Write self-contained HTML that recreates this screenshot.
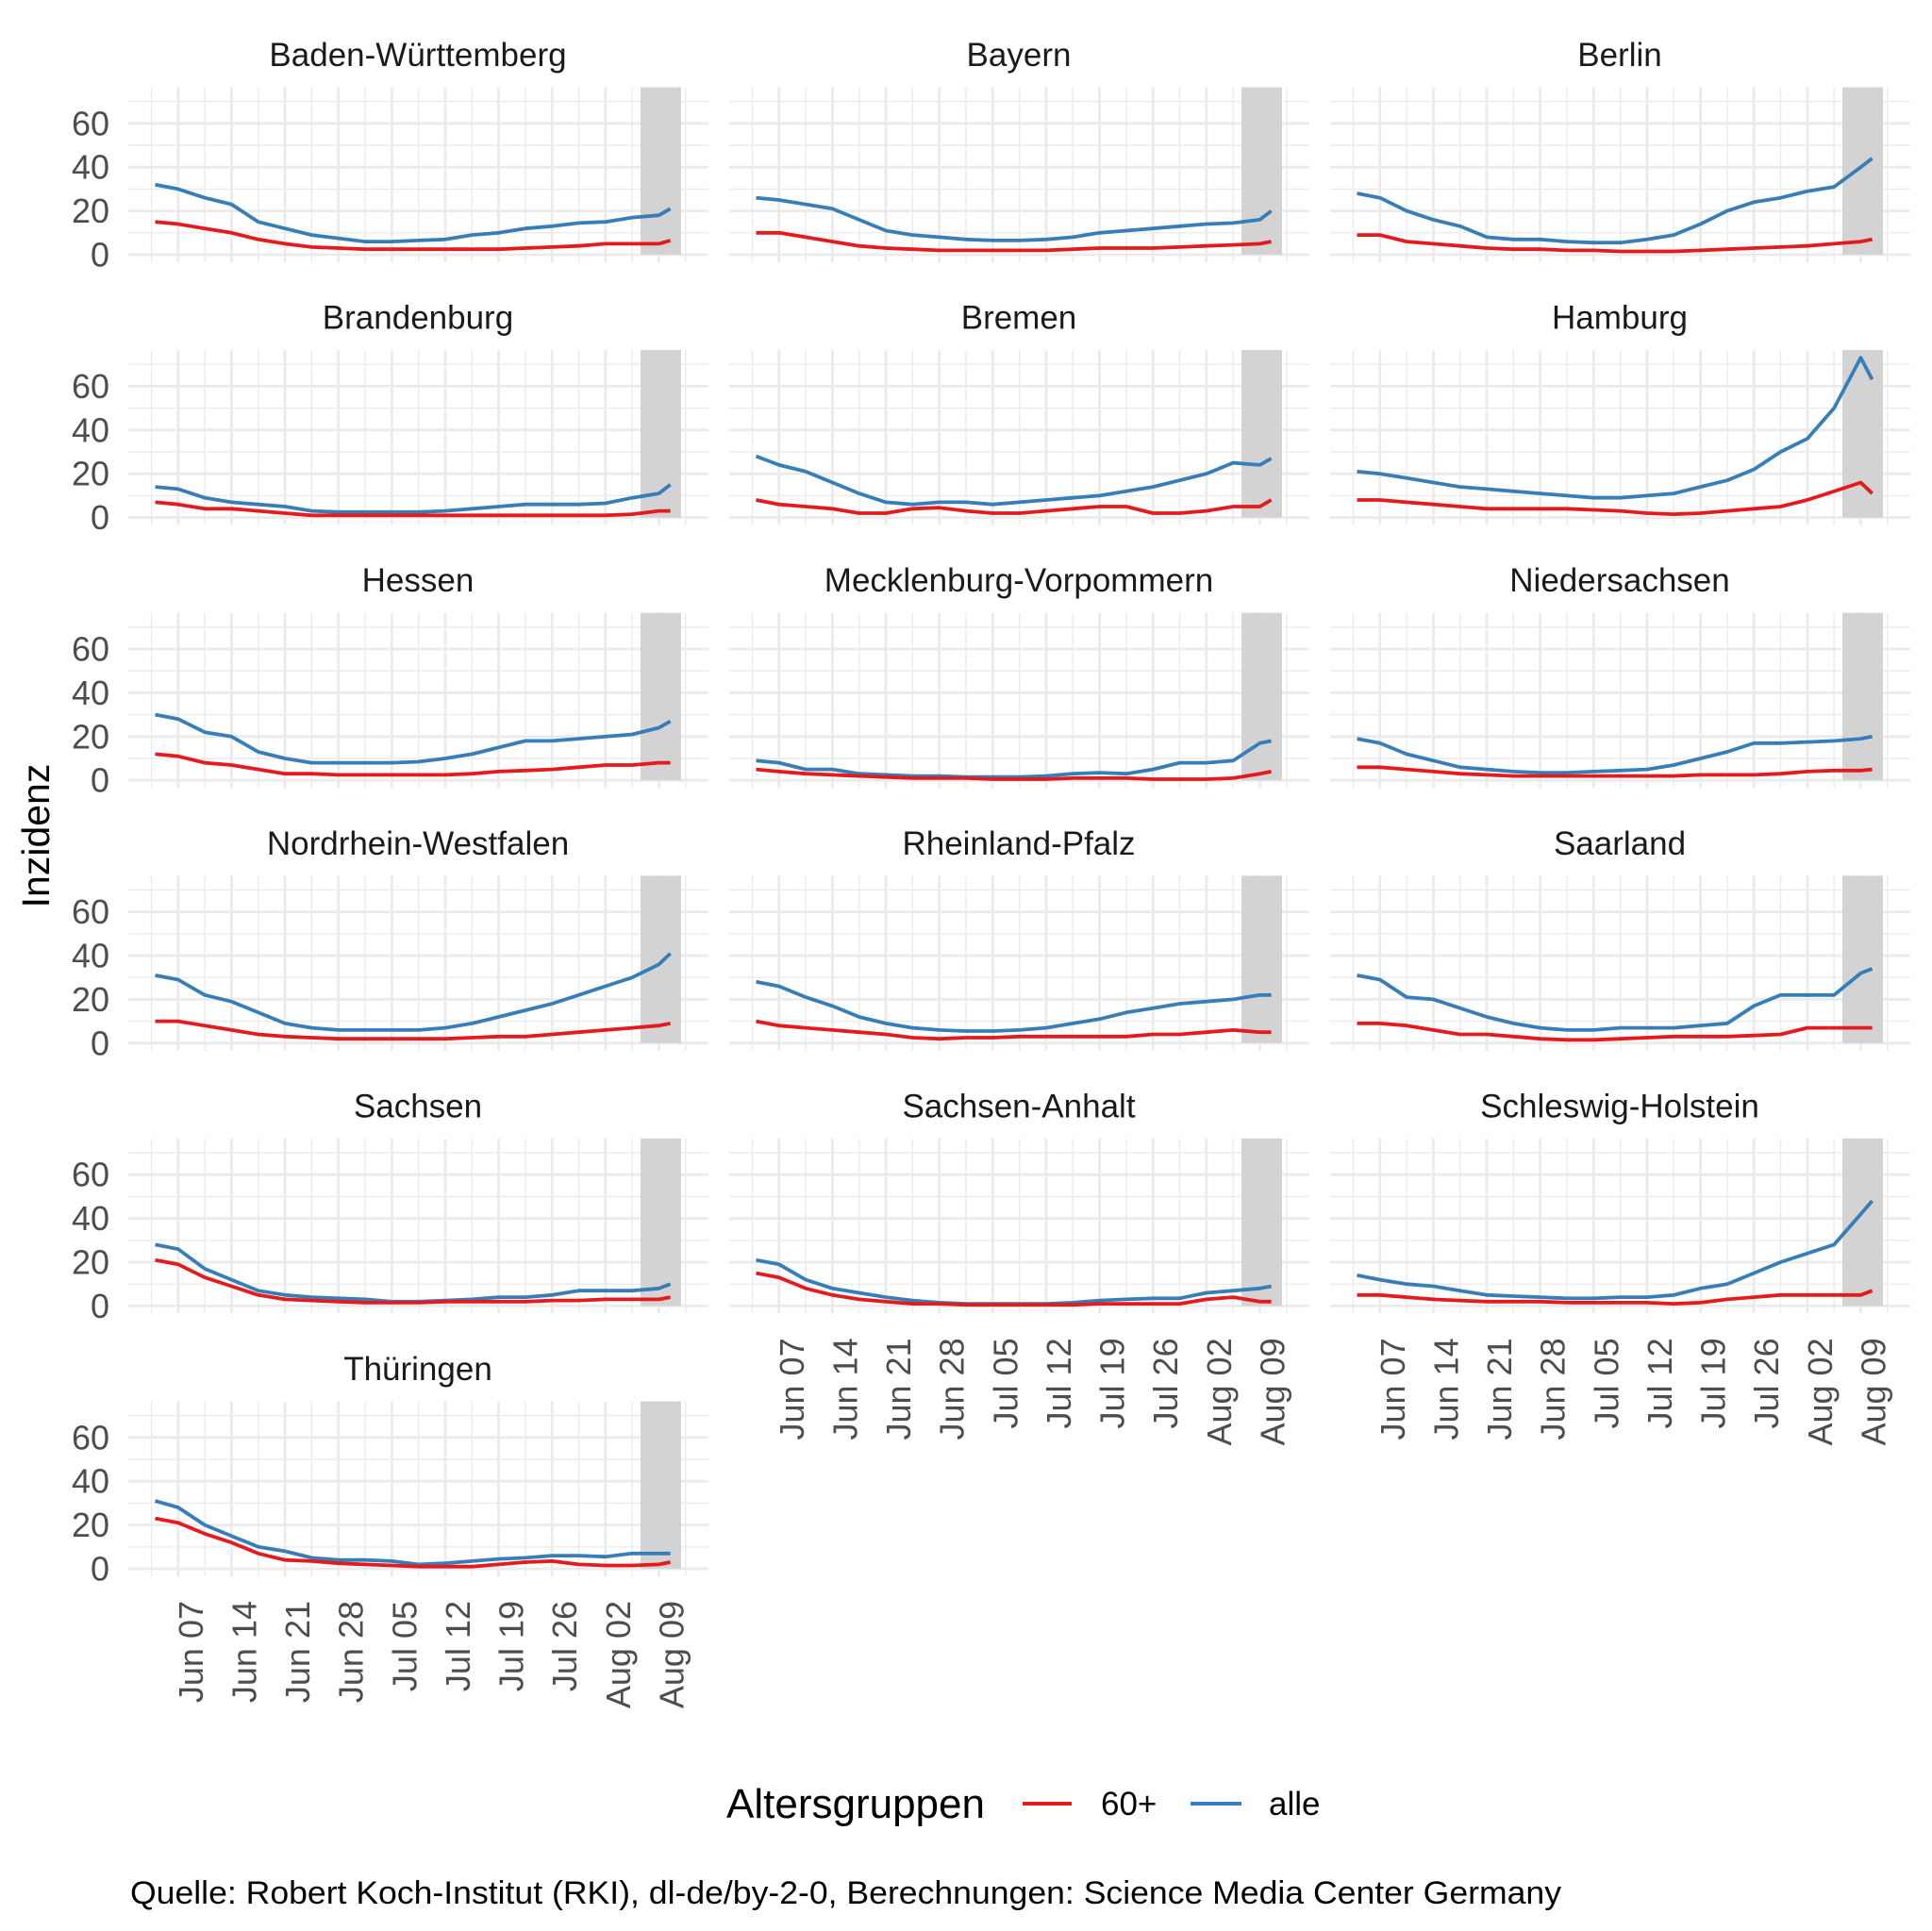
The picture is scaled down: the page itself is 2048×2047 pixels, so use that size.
<!DOCTYPE html>
<html><head><meta charset="utf-8"><style>
html,body{margin:0;padding:0;background:#fff;}
svg{display:block;font-family:"Liberation Sans",Arial,sans-serif;}
</style></head><body>
<svg id="s" width="2048" height="2047" viewBox="0 0 2048 2047" xmlns="http://www.w3.org/2000/svg">
<rect width="2048" height="2047" fill="#fff"/>
<g id="g"></g>
<text transform="translate(52,886) rotate(-90)" text-anchor="middle" font-size="41" fill="#000">Inzidenz</text>
<text x="770" y="1927" font-size="44" fill="#000">Altersgruppen</text>
<line x1="1084" y1="1912" x2="1136" y2="1912" stroke="#e41a1c" stroke-width="4"/>
<text x="1167" y="1924" font-size="35" fill="#000">60+</text>
<line x1="1262" y1="1912" x2="1316" y2="1912" stroke="#377eb8" stroke-width="4"/>
<text x="1345" y="1924" font-size="35" fill="#000">alle</text>
<text x="138" y="2018" font-size="34" fill="#000" textLength="1517" lengthAdjust="spacingAndGlyphs">Quelle: Robert Koch-Institut (RKI), dl-de/by-2-0, Berechnungen: Science Media Center Germany</text>
</svg>
<script>
(function(){
var D=[-3,0,3.5,7,10.5,14,17.5,21,24.5,28,31.5,35,38.5,42,45.5,49,52.5,56,59.5,63,64.5];
var P=[
["Baden-Württemberg",[32,30,26,23,15,12,9,7.5,6,6,6.5,7,9,10,12,13,14.5,15,17,18,21],[15,14,12,10,7,5,3.5,3,2.5,2.5,2.5,2.5,2.5,2.5,3,3.5,4,5,5,5,6.5]],
["Bayern",[26,25,23,21,16,11,9,8,7,6.5,6.5,7,8,10,11,12,13,14,14.5,16,20],[10,10,8,6,4,3,2.5,2,2,2,2,2,2.5,3,3,3,3.5,4,4.5,5,6]],
["Berlin",[28,26,20,16,13,8,7,7,6,5.5,5.5,7,9,14,20,24,26,29,31,40,44],[9,9,6,5,4,3,2.5,2.5,2,2,1.5,1.5,1.5,2,2.5,3,3.5,4,5,6,7]],
["Brandenburg",[14,13,9,7,6,5,3,2.5,2.5,2.5,2.5,3,4,5,6,6,6,6.5,9,11,15],[7,6,4,4,3,2,1,1,1,1,1,1,1,1,1,1,1,1,1.5,3,3]],
["Bremen",[28,24,21,16,11,7,6,7,7,6,7,8,9,10,12,14,17,20,25,24,27],[8,6,5,4,2,2,4,4.5,3,2,2,3,4,5,5,2,2,3,5,5,8]],
["Hamburg",[21,20,18,16,14,13,12,11,10,9,9,10,11,14,17,22,30,36,50,73,63],[8,8,7,6,5,4,4,4,4,3.5,3,2,1.5,2,3,4,5,8,12,16,11]],
["Hessen",[30,28,22,20,13,10,8,8,8,8,8.5,10,12,15,18,18,19,20,21,24,27],[12,11,8,7,5,3,3,2.5,2.5,2.5,2.5,2.5,3,4,4.5,5,6,7,7,8,8]],
["Mecklenburg-Vorpommern",[9,8,5,5,3,2.5,2,2,1.5,1.5,1.5,2,3,3.5,3,5,8,8,9,17,18],[5,4,3,2.5,2,1.5,1,1,1,0.5,0.5,0.5,1,1,1,0.5,0.5,0.5,1,3,4]],
["Niedersachsen",[19,17,12,9,6,5,4,3.5,3.5,4,4.5,5,7,10,13,17,17,17.5,18,19,20],[6,6,5,4,3,2.5,2,2,2,2,2,2,2,2.5,2.5,2.5,3,4,4.5,4.5,5]],
["Nordrhein-Westfalen",[31,29,22,19,14,9,7,6,6,6,6,7,9,12,15,18,22,26,30,36,41],[10,10,8,6,4,3,2.5,2,2,2,2,2,2.5,3,3,4,5,6,7,8,9]],
["Rheinland-Pfalz",[28,26,21,17,12,9,7,6,5.5,5.5,6,7,9,11,14,16,18,19,20,22,22],[10,8,7,6,5,4,2.5,2,2.5,2.5,3,3,3,3,3,4,4,5,6,5,5]],
["Saarland",[31,29,21,20,16,12,9,7,6,6,7,7,7,8,9,17,22,22,22,32,34],[9,9,8,6,4,4,3,2,1.5,1.5,2,2.5,3,3,3,3.5,4,7,7,7,7]],
["Sachsen",[28,26,17,12,7,5,4,3.5,3,2,2,2.5,3,4,4,5,7,7,7,8,10],[21,19,13,9,5,3,2.5,2,1.5,1.5,1.5,2,2,2,2,2.5,2.5,3,3,3,4]],
["Sachsen-Anhalt",[21,19,12,8,6,4,2.5,1.5,1,1,1,1,1.5,2.5,3,3.5,3.5,6,7,8,9],[15,13,8,5,3,2,1,1,0.5,0.5,0.5,0.5,0.5,1,1,1,1,3,4,2,2]],
["Schleswig-Holstein",[14,12,10,9,7,5,4.5,4,3.5,3.5,4,4,5,8,10,15,20,24,28,42,48],[5,5,4,3,2.5,2,2,2,1.5,1.5,1.5,1.5,1,1.5,3,4,5,5,5,5,7]],
["Thüringen",[31,28,20,15,10,8,5,4,4,3.5,2,2.5,3.5,4.5,5,6,6,5.5,7,7,7],[23,21,16,12,7,4,3.5,2.5,2,1.5,1,1,1,2,3,3.5,2,1.5,1.5,2,3]]
];
var L=["Jun 07","Jun 14","Jun 21","Jun 28","Jul 05","Jul 12","Jul 19","Jul 26","Aug 02","Aug 09"];
var h="",W=615,U=2.32,PX=8.09;
for(var i=0;i<P.length;i++){
 var c=i%3,r=Math.floor(i/3),x0=136+c*637,y0=270+r*278.6;
 var pt=y0-177.5,pb=y0+8;
 var X=function(d){return x0+52.8+d*PX;};
 var Y=function(v){return y0-v*U;};
 for(var v=10;v<=70;v+=20)h+='<line x1="'+x0+'" x2="'+(x0+W)+'" y1="'+Y(v)+'" y2="'+Y(v)+'" stroke="#ebebeb" stroke-width="1.4"/>';
 for(var d=-3.5;d<=67;d+=7)h+='<line x1="'+X(d)+'" x2="'+X(d)+'" y1="'+pt+'" y2="'+pb+'" stroke="#ebebeb" stroke-width="1.4"/>';
 for(var v=0;v<=60;v+=20)h+='<line x1="'+x0+'" x2="'+(x0+W)+'" y1="'+Y(v)+'" y2="'+Y(v)+'" stroke="#ebebeb" stroke-width="2.8"/>';
 for(var d=0;d<=63;d+=7)h+='<line x1="'+X(d)+'" x2="'+X(d)+'" y1="'+pt+'" y2="'+pb+'" stroke="#ebebeb" stroke-width="2.8"/>';
 h+='<rect x="'+(x0+543)+'" y="'+pt+'" width="43" height="'+(y0-pt)+'" fill="#d3d3d3"/>';
 var cols=['#377eb8','#e41a1c'];
 for(var k=0;k<2;k++){
  var a=P[i][k+1],pts=[];
  for(var j=0;j<D.length;j++)pts.push(X(D[j]).toFixed(1)+','+Y(a[j]).toFixed(1));
  h+='<polyline points="'+pts.join(' ')+'" fill="none" stroke="'+cols[k]+'" stroke-width="3.8" stroke-linejoin="round"/>';
 }
 h+='<text x="'+(x0+307)+'" y="'+(y0-200)+'" text-anchor="middle" font-size="35" fill="#1a1a1a">'+P[i][0]+'</text>';
 if(c==0)for(var v=0;v<=60;v+=20)h+='<text x="'+(x0-20)+'" y="'+(Y(v)+12.5)+'" text-anchor="end" font-size="36" fill="#4d4d4d">'+v+'</text>';
 if(i==13||i==14||i==15){
  for(var t=0;t<10;t++)h+='<text transform="translate('+(X(t*7)+26)+','+(y0+34)+') rotate(-90)" text-anchor="end" font-size="36" fill="#4d4d4d">'+L[t]+'</text>';
 }
}
document.getElementById("g").innerHTML=h;
})();
</script>
</body></html>
